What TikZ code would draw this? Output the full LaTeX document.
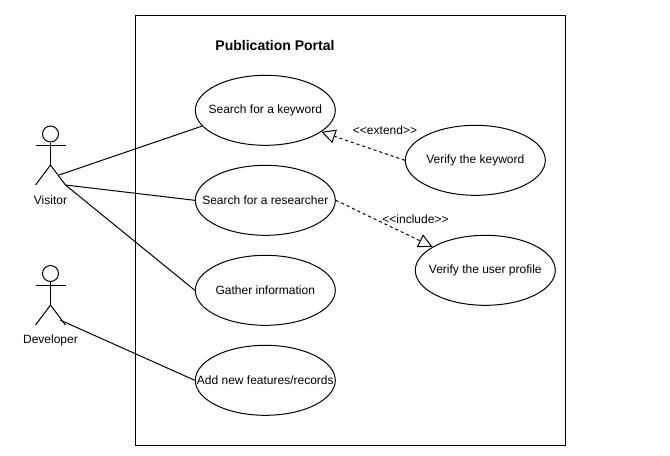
\documentclass[tikz,border=0pt]{standalone}
\usepackage{fontspec}
\setmainfont{Liberation Sans}
\usetikzlibrary{shapes.geometric,arrows.meta}
\newcommand{\uctext}[1]{\makebox[0pt][c]{\raisebox{-1pt}{#1}}}
\tikzset{
  x=0.75pt,y=-0.75pt,
  every node/.style={font=\fontsize{9}{11}\selectfont,text=black},
  usecase/.style={draw=black,line width=0.75pt,ellipse,minimum width=105pt,minimum height=52.5pt,inner sep=0pt,fill=white},
  assoc/.style={draw=black,line width=0.75pt},
  limb/.style={draw=black,line width=0.75pt},
  head/.style={draw=black,line width=0.75pt,circle,minimum size=12pt,inner sep=0pt},
  label/.style={inner sep=0pt},
  dep/.style={draw=black,line width=0.75pt,dash pattern=on 2.25pt off 2.25pt,-{Triangle[open,length=10.5pt,width=10.5pt,line width=0.75pt]}},
}
\begin{document}
\begin{tikzpicture}
\useasboundingbox (0,0) rectangle (670,455);
\fill[white] (0,0) rectangle (670,455);
\node[draw=black,line width=0.75pt,minimum width=322.5pt,minimum height=322.5pt,inner sep=0pt] (frame) at (350,230) {};
\node[label,font=\fontsize{10.5}{12}\selectfont\bfseries] (title) at (275,45) {Publication Portal};
% use cases
\node[usecase] (kw) at (265.3,110.3) {\uctext{Search for a keyword}};
\node[usecase] (res) at (265.3,200.3) {\uctext{Search for a researcher}};
\node[usecase] (gather) at (265.3,290.3) {\uctext{Gather information}};
\node[usecase] (add) at (265.3,380.3) {\uctext{Add new features/records}};
\node[usecase] (vkw) at (475.3,160.3) {\uctext{Verify the keyword}};
\node[usecase] (vup) at (485.3,270.3) {\uctext{Verify the user profile}};
% Visitor
\node[head] (vhead) at (50.5,134) {};
\coordinate (vhip) at (50.5,165);
\coordinate (vla) at (35.5,145);
\coordinate (vra) at (65.5,145);
\coordinate (vlf) at (35.5,185);
\coordinate (vrf) at (65.5,185);
\coordinate (vcon) at (59,175);
\draw[limb] (vhead) -- (vhip);
\draw[limb] (vla) -- (vra);
\draw[limb] (vlf) -- (vhip) -- (vrf);
\node[label] (vlab) at (50.5,200) {Visitor};
% Developer
\node[head] (dhead) at (50.5,273.5) {};
\coordinate (dhip) at (50.5,305);
\coordinate (dla) at (35.5,285);
\coordinate (dra) at (65.5,285);
\coordinate (dlf) at (35.5,325);
\coordinate (drf) at (65.5,325);
\coordinate (dcon) at (60,320);
\draw[limb] (dhead) -- (dhip);
\draw[limb] (dla) -- (dra);
\draw[limb] (dlf) -- (dhip) -- (drf);
\node[label] (dlab) at (50.5,340.7) {Developer};
% associations
\draw[assoc] (vcon) -- (kw.194);
\draw[assoc] (vrf) -- (res.west);
\draw[assoc] (vrf) -- (gather.west);
\draw[assoc] (dcon) -- (add.west);
% dependencies
\draw[dep] (vkw.west) -- (kw.-21);
\draw[dep] (res.east) -- (vup.156);
\node[label] (ext) at (385,130) {<{}<extend>{}>};
\node[label] (inc) at (415.5,219.5) {<{}<include>{}>};
\end{tikzpicture}
\end{document}
